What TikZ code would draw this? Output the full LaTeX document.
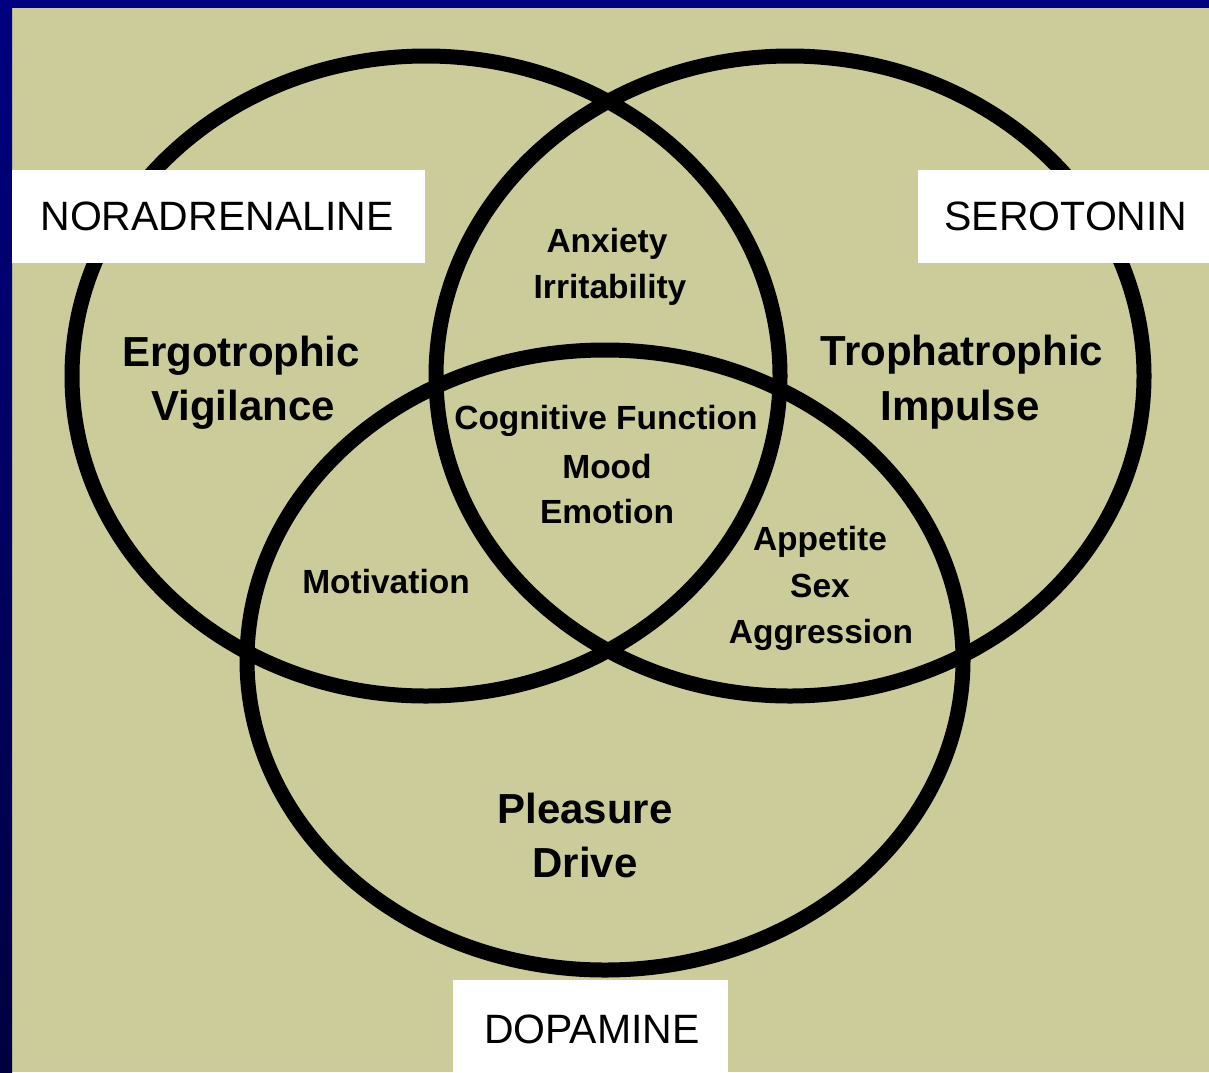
\documentclass[tikz,border=0pt]{standalone}
\usepackage{fontspec}
\setmainfont{Liberation Sans}
\definecolor{bgtan}{RGB}{203,204,154}
\definecolor{navytop}{RGB}{0,0,128}
\definecolor{navybot}{RGB}{0,0,64}
\begin{document}
\begin{tikzpicture}[x=0.5pt,y=-0.5pt,
  ring/.style={draw=black,line width=7.5pt},
  tagbox/.style={fill=white},
  taglabel/.style={font=\fontsize{20.5}{24}\selectfont,anchor=base,inner sep=0pt},
  bigtext/.style={font=\fontsize{21}{25}\selectfont\bfseries,anchor=base,inner sep=0pt},
  smalltext/.style={font=\fontsize{16.75}{20}\selectfont\bfseries,anchor=base,inner sep=0pt}]
\useasboundingbox (0,0) rectangle (1209,1072);
% background and frame
\fill[bgtan] (0,0) rectangle (1209,1072);
\fill[navytop] (0,0) rectangle (1209,8);
\shade[top color=navytop,bottom color=navybot] (0,0) rectangle (12,1072);
% three overlapping circles
\draw[ring] (426,376) ellipse [x radius=177pt, y radius=160pt];
\draw[ring] (790,376) ellipse [x radius=177pt, y radius=160pt];
\draw[ring] (605,660) ellipse [x radius=179pt, y radius=155pt];
% label boxes
\fill[tagbox] (12,170) rectangle (425,263);
\fill[tagbox] (918,170) rectangle (1209,263);
\fill[tagbox] (453,980) rectangle (728,1072);
\node[taglabel] (nor) at (217,230) {NORADRENALINE};
\node[taglabel] (ser) at (1066,230) {SEROTONIN};
\node[taglabel] (dop) at (592,1043) {DOPAMINE};
% region texts
\node[bigtext] (ergoA) at (241,366) {Ergotrophic};
\node[bigtext] (ergoB) at (243,420) {Vigilance};
\node[bigtext] (trophA) at (962,365) {Trophatrophic};
\node[bigtext] (trophB) at (960,420) {Impulse};
\node[bigtext] (pleaA) at (585,823) {Pleasure};
\node[bigtext] (pleaB) at (585,877) {Drive};
\node[smalltext] (anxA) at (607,252) {Anxiety};
\node[smalltext] (anxB) at (610,298) {Irritability};
\node[smalltext] (cogA) at (606,429) {Cognitive Function};
\node[smalltext] (cogB) at (607,478) {Mood};
\node[smalltext] (cogC) at (607,523) {Emotion};
\node[smalltext] (mot) at (386,593) {Motivation};
\node[smalltext] (appA) at (820,550) {Appetite};
\node[smalltext] (appB) at (820,597) {Sex};
\node[smalltext] (appC) at (821,643) {Aggression};
\end{tikzpicture}
\end{document}
